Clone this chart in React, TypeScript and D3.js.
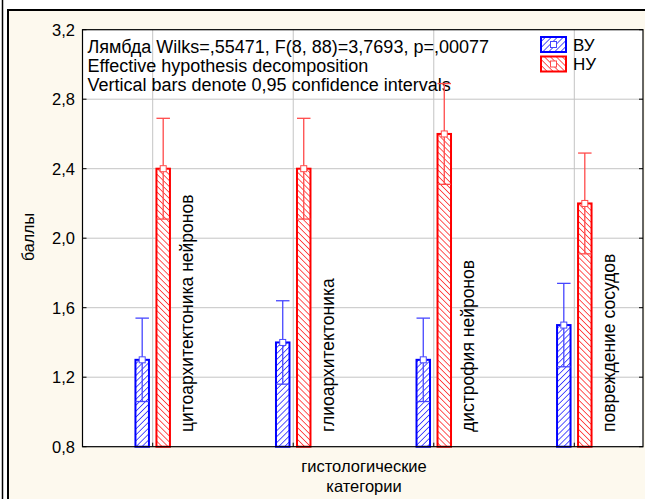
import React from "react";
import * as d3 from "d3";

// Categories and group statistics (means with 0.95 confidence limits)
const categories = [
  "цитоархитектоника нейронов",
  "глиоархитектоника",
  "дистрофия нейронов",
  "повреждение сосудов",
];
const vuMeans = [1.3, 1.4, 1.3, 1.5];
const vuLower = [1.06, 1.16, 1.06, 1.26];
const vuUpper = [1.54, 1.64, 1.54, 1.74];
const nuMeans = [2.4, 2.4, 2.6, 2.2];
const nuLower = [2.11, 2.11, 2.31, 1.91];
const nuUpper = [2.69, 2.69, 2.89, 2.49];
const yTicks = [0.8, 1.2, 1.6, 2.0, 2.4, 2.8, 3.2];
const seriesNames = ["ВУ", "НУ"];
const noteLines = [
  "Лямбда Wilks=,55471, F(8, 88)=3,7693, p=,00077",
  "Effective hypothesis decomposition",
  "Vertical bars denote 0,95 confidence intervals",
];
const yTitle = "баллы";
const xTitle = ["гистологические", "категории"];

const W = 645;
const H = 499;
const plot = { left: 82.5, right: 643, top: 29.7, bottom: 446.7 };
const FONT = "Arial, 'Liberation Sans', sans-serif";
const BLUE = "#0000ff";
const RED = "#ff0000";
const BLUE_ERR = "#4646ff";
const RED_ERR = "#ff4a4a";

const fmt = (v: number) => d3.format(".1f")(v).replace(".", ",");

export default function App() {
  const y = d3.scaleLinear().domain([0.8, 3.2]).range([plot.bottom, plot.top]);
  const x = d3.scalePoint<string>().domain(categories).range([152.7, 574.3]);
  const barW = 13.5;
  const offset = 10.5;

  const series = [
    { name: seriesNames[0], means: vuMeans, lo: vuLower, hi: vuUpper, color: BLUE, err: BLUE_ERR, fill: "url(#hatchBlue)", dx: -offset },
    { name: seriesNames[1], means: nuMeans, lo: nuLower, hi: nuUpper, color: RED, err: RED_ERR, fill: "url(#hatchRed)", dx: offset },
  ];

  return (
    <svg width={W} height={H} style={{ position: "absolute", left: 0, top: 0, display: "block" }}>
      <defs>
        <pattern id="hatchBlue" width={4.2} height={4.2} patternUnits="userSpaceOnUse" patternTransform="rotate(45)">
          <rect width={4.2} height={4.2} fill="#ffffff" />
          <line x1={0} y1={0} x2={0} y2={4.2} stroke={BLUE} strokeWidth={1.3} />
        </pattern>
        <pattern id="hatchRed" width={4.2} height={4.2} patternUnits="userSpaceOnUse" patternTransform="rotate(-45)">
          <rect width={4.2} height={4.2} fill="#ffffff" />
          <line x1={0} y1={0} x2={0} y2={4.2} stroke={RED} strokeWidth={1.3} />
        </pattern>
      </defs>

      {/* page and outer frame */}
      <rect x={0} y={0} width={W} height={H} fill="#ffffff" />
      <line x1={2.5} y1={0} x2={2.5} y2={H} stroke="#000" strokeWidth={1.5} />
      <rect x={8} y={10} width={W + 10} height={H + 10} fill="#fdf9ee" stroke="#000" strokeWidth={2} />

      {/* plot area */}
      <rect x={plot.left} y={plot.top} width={plot.right - plot.left} height={plot.bottom - plot.top} fill="#ffffff" />

      {/* gridlines */}
      {yTicks.slice(1, -1).map((t) => (
        <line key={"gy" + t} x1={plot.left} x2={plot.right} y1={y(t)} y2={y(t)} stroke="#c4c4c4" strokeWidth={1} />
      ))}
      {categories.map((c) => (
        <line key={"gx" + c} x1={x(c)} x2={x(c)} y1={plot.top} y2={plot.bottom} stroke="#c4c4c4" strokeWidth={1} />
      ))}

      {/* notes */}
      {noteLines.map((t, i) => (
        <text key={t} x={87.5} y={53 + i * 19.2} fontFamily={FONT} fontSize={18} fill="#000">
          {t}
        </text>
      ))}

      {/* bars with confidence intervals */}
      {series.map((s) =>
        categories.map((c, i) => {
          const cx = (x(c) as number) + s.dx;
          const x0 = cx - barW / 2;
          const yt = y(s.means[i]);
          const yl = y(s.lo[i]);
          const yh = y(s.hi[i]);
          return (
            <g key={s.name + c}>
              <rect x={x0} y={yt} width={barW} height={plot.bottom - yt} fill={s.fill} stroke={s.color} strokeWidth={2} />
              <line x1={cx} x2={cx} y1={yh} y2={yl} stroke={s.err} strokeWidth={1.3} />
              <line x1={x0} x2={x0 + barW} y1={yh} y2={yh} stroke={s.err} strokeWidth={1.3} />
              <line x1={x0} x2={x0 + barW} y1={yl} y2={yl} stroke={s.err} strokeWidth={1.3} />
              <rect x={cx - 3} y={yt - 3} width={6} height={6} fill="#ffffff" stroke={s.err} strokeWidth={1} />
            </g>
          );
        })
      )}

      {/* category labels */}
      {categories.map((c) => (
        <text
          key={"cl" + c}
          transform={`translate(${(x(c) as number) + 40.5},432) rotate(-90)`}
          fontFamily={FONT}
          fontSize={17.5}
          fill="#000"
        >
          {c}
        </text>
      ))}

      {/* plot frame */}
      <rect x={plot.left} y={plot.top} width={plot.right - plot.left} height={plot.bottom - plot.top} fill="none" stroke="#000" strokeWidth={1.2} />

      {/* axis ticks */}
      {yTicks.map((t) => (
        <g key={"yt" + t}>
          <line x1={plot.left} x2={plot.left + 4} y1={y(t)} y2={y(t)} stroke="#000" strokeWidth={1} />
          <line x1={plot.right - 4} x2={plot.right} y1={y(t)} y2={y(t)} stroke="#000" strokeWidth={1} />
          <text x={75} y={y(t)} dy="0.36em" textAnchor="end" fontFamily={FONT} fontSize={16.5} fill="#000">
            {fmt(t)}
          </text>
        </g>
      ))}
      {categories.map((c) => (
        <line key={"xt" + c} x1={x(c)} x2={x(c)} y1={plot.bottom} y2={plot.bottom - 4} stroke="#000" strokeWidth={1} />
      ))}

      {/* axis titles */}
      <text transform="translate(34,237) rotate(-90)" textAnchor="middle" fontFamily={FONT} fontSize={16} fill="#000">
        {yTitle}
      </text>
      {xTitle.map((t, i) => (
        <text key={t} x={364} y={472 + i * 20} textAnchor="middle" fontFamily={FONT} fontSize={16.5} fill="#000">
          {t}
        </text>
      ))}

      {/* legend */}
      {series.map((s, i) => (
        <g key={"lg" + s.name}>
          <rect x={541} y={37 + i * 19.5} width={25} height={15} fill={s.fill} stroke={s.color} strokeWidth={2} />
          <rect x={550.5} y={41.5 + i * 19.5} width={6} height={6} fill="#ffffff" stroke={s.err} strokeWidth={1} />
          <text x={573} y={50.5 + i * 19.5} fontFamily={FONT} fontSize={17} fill="#000">
            {s.name}
          </text>
        </g>
      ))}
    </svg>
  );
}
